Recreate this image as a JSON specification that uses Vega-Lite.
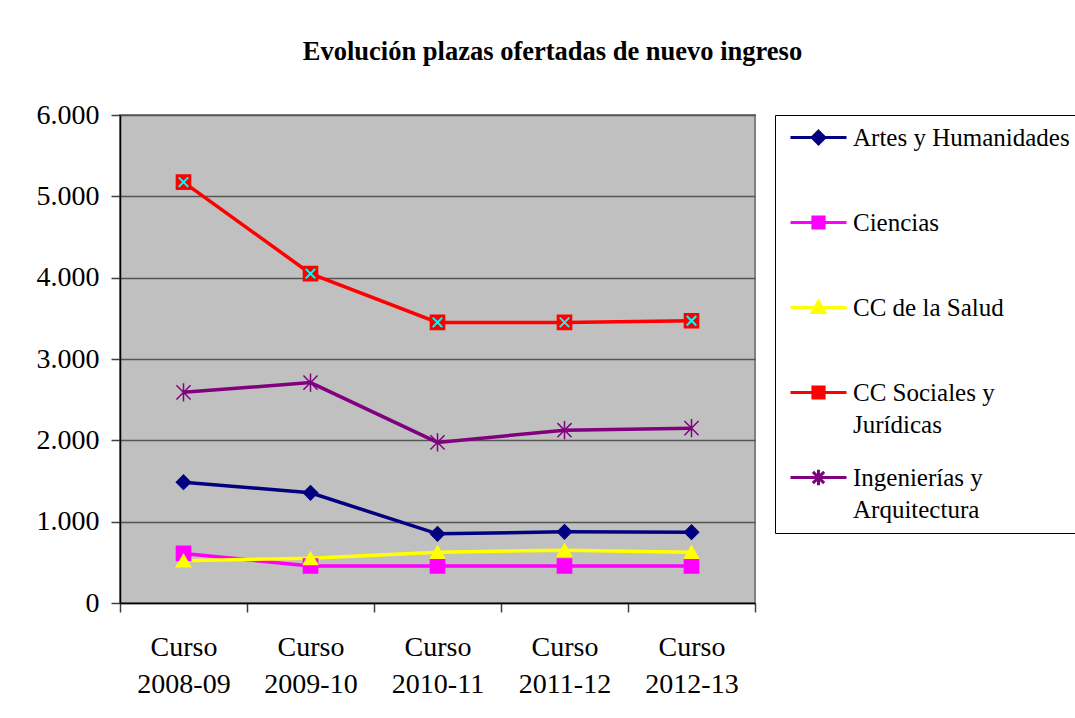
{
  "$schema": "https://vega.github.io/schema/vega-lite/v6.json",
  "width": 635,
  "height": 488,
  "autosize": {"type": "none"},
  "padding": {"left": 120, "top": 115, "right": 320, "bottom": 115},
  "background": "white",
  "title": {
    "text": "Evolución plazas ofertadas de nuevo ingreso",
    "font": "Liberation Serif",
    "fontSize": 26.5,
    "fontWeight": "bold",
    "color": "black",
    "anchor": "middle",
    "frame": "group",
    "baseline": "alphabetic",
    "dx": 115,
    "offset": 15
  },
  "data": {
    "values": [
      {"curso": "Curso 2008-09", "serie": "Artes y Humanidades", "plazas": 1485},
      {"curso": "Curso 2009-10", "serie": "Artes y Humanidades", "plazas": 1355},
      {"curso": "Curso 2010-11", "serie": "Artes y Humanidades", "plazas": 850},
      {"curso": "Curso 2011-12", "serie": "Artes y Humanidades", "plazas": 875},
      {"curso": "Curso 2012-13", "serie": "Artes y Humanidades", "plazas": 870},
      {"curso": "Curso 2008-09", "serie": "Ciencias", "plazas": 610},
      {"curso": "Curso 2009-10", "serie": "Ciencias", "plazas": 455},
      {"curso": "Curso 2010-11", "serie": "Ciencias", "plazas": 455},
      {"curso": "Curso 2011-12", "serie": "Ciencias", "plazas": 455},
      {"curso": "Curso 2012-13", "serie": "Ciencias", "plazas": 455},
      {"curso": "Curso 2008-09", "serie": "CC de la Salud", "plazas": 520},
      {"curso": "Curso 2009-10", "serie": "CC de la Salud", "plazas": 550},
      {"curso": "Curso 2010-11", "serie": "CC de la Salud", "plazas": 625},
      {"curso": "Curso 2011-12", "serie": "CC de la Salud", "plazas": 650},
      {"curso": "Curso 2012-13", "serie": "CC de la Salud", "plazas": 625},
      {"curso": "Curso 2008-09", "serie": "CC Sociales y Jurídicas", "plazas": 5175},
      {"curso": "Curso 2009-10", "serie": "CC Sociales y Jurídicas", "plazas": 4050},
      {"curso": "Curso 2010-11", "serie": "CC Sociales y Jurídicas", "plazas": 3450},
      {"curso": "Curso 2011-12", "serie": "CC Sociales y Jurídicas", "plazas": 3450},
      {"curso": "Curso 2012-13", "serie": "CC Sociales y Jurídicas", "plazas": 3470},
      {"curso": "Curso 2008-09", "serie": "Ingenierías y Arquitectura", "plazas": 2590},
      {"curso": "Curso 2009-10", "serie": "Ingenierías y Arquitectura", "plazas": 2710},
      {"curso": "Curso 2010-11", "serie": "Ingenierías y Arquitectura", "plazas": 1975},
      {"curso": "Curso 2011-12", "serie": "Ingenierías y Arquitectura", "plazas": 2125},
      {"curso": "Curso 2012-13", "serie": "Ingenierías y Arquitectura", "plazas": 2150}
    ]
  },
  "config": {
    "font": "Liberation Serif",
    "view": {"fill": "#c0c0c0", "stroke": "#808080", "strokeWidth": 2},
    "axis": {
      "labelFont": "Liberation Serif",
      "labelFontSize": 28,
      "labelColor": "black",
      "domainColor": "black",
      "domainWidth": 1.5,
      "tickColor": "#404040",
      "tickWidth": 1.5,
      "tickSize": 9,
      "title": null
    },
    "legend": {
      "orient": "none",
      "legendX": 655,
      "legendY": 0,
      "padding": 10,
      "strokeColor": "black",
      "fillColor": "white",
      "symbolOffset": 21,
      "labelOffset": 22,
      "labelFont": "Liberation Serif",
      "labelFontSize": 25,
      "labelColor": "black",
      "labelLimit": 500,
      "labelBaseline": "alphabetic",
      "symbolSize": 196,
      "symbolStrokeWidth": 3,
      "symbolOpacity": 1,
      "gridAlign": "all",
      "rowPadding": 25
    }
  },
  "encoding": {
    "x": {
      "field": "curso",
      "type": "ordinal",
      "bandPosition": 0.5,
      "scale": {"type": "band", "paddingInner": 0, "paddingOuter": 0},
      "axis": {
        "labelAngle": 0,
        "tickBand": "extent",
        "labelFont": "Liberation Serif",
        "labelExpr": "split(datum.label, ' ')",
        "labelLineHeight": 37,
        "labelPadding": 21,
        "grid": false
      }
    },
    "y": {
      "field": "plazas",
      "type": "quantitative",
      "scale": {"domain": [0, 6000], "nice": false},
      "axis": {
        "values": [0, 1000, 2000, 3000, 4000, 5000, 6000],
        "labelFont": "Liberation Serif",
        "labelExpr": "replace(format(datum.value, ','), ',', '.')",
        "labelPadding": 12,
        "grid": true,
        "gridColor": "#555555",
        "gridWidth": 1.5
      }
    }
  },
  "layer": [
    {
      "mark": {"type": "line", "strokeWidth": 3.5},
      "encoding": {
        "color": {
          "field": "serie",
          "type": "nominal",
          "scale": {
            "domain": ["Artes y Humanidades", "Ciencias", "CC de la Salud", "CC Sociales y Jurídicas", "Ingenierías y Arquitectura"],
            "range": ["#000080", "#ff00ff", "#ffff00", "#ff0000", "#800080"]
          },
          "legend": null
        }
      }
    },
    {
      "mark": {"type": "point", "filled": true, "strokeWidth": 1.5, "size": 200, "opacity": 1},
      "encoding": {
        "shape": {
          "field": "serie",
          "type": "nominal",
          "scale": {
            "domain": ["Artes y Humanidades", "Ciencias", "CC de la Salud", "CC Sociales y Jurídicas", "Ingenierías y Arquitectura"],
            "range": ["diamond", "square", "triangle-up", "square", "M-1,-1L1,1M-1,1L1,-1M0,-1.3V1.3"]
          },
          "legend": null
        },
        "fill": {
          "field": "serie",
          "type": "nominal",
          "scale": {
            "domain": ["Artes y Humanidades", "Ciencias", "CC de la Salud", "CC Sociales y Jurídicas", "Ingenierías y Arquitectura"],
            "range": ["#000080", "#ff00ff", "#ffff00", "#ff0000", "#800080"]
          },
          "legend": null
        },
        "stroke": {
          "field": "serie",
          "type": "nominal",
          "scale": {
            "domain": ["Artes y Humanidades", "Ciencias", "CC de la Salud", "CC Sociales y Jurídicas", "Ingenierías y Arquitectura"],
            "range": ["#000080", "#ff00ff", "#ffff00", "#ff0000", "#800080"]
          },
          "legend": null
        }
      }
    },
    {
      "transform": [{"filter": "datum.serie == 'CC Sociales y Jurídicas'"}],
      "mark": {"type": "point", "filled": false, "shape": "M-1,-1L1,1M-1,1L1,-1", "size": 90, "stroke": "#00ffff", "strokeWidth": 2, "opacity": 1}
    },
    {
      "mark": {"type": "point", "filled": true, "opacity": 0, "strokeWidth": 3},
      "encoding": {
        "shape": {
          "field": "serie",
          "type": "nominal",
          "scale": {
            "domain": ["Artes y Humanidades", "Ciencias", "CC de la Salud", "CC Sociales y Jurídicas", "Ingenierías y Arquitectura"],
            "range": [
              "M-4,0H4M0,-0.9L0.9,0L0,0.9L-0.9,0Z",
              "M-4,0H4M-0.8,-0.8H0.8V0.8H-0.8Z",
              "M-4,0H4M0,-0.9L0.9,0.7H-0.9Z",
              "M-4,0H4M-0.8,-0.8H0.8V0.8H-0.8Z",
              "M-4,0H4M-0.8,-0.8L0.8,0.8M-0.8,0.8L0.8,-0.8M0,-1.1V1.1"
            ]
          },
          "legend": {
            "title": null,
            "labelExpr": "datum.label == 'CC Sociales y Jurídicas' ? ['CC Sociales y', 'Jurídicas'] : datum.label == 'Ingenierías y Arquitectura' ? ['Ingenierías y', 'Arquitectura'] : datum.label",
            "encode": {"labels": {"update": {"dy": {"value": 8}, "lineHeight": {"value": 32}, "font": {"value": "Liberation Serif"}}}}
          }
        },
        "fill": {
          "field": "serie",
          "type": "nominal",
          "scale": {
            "domain": ["Artes y Humanidades", "Ciencias", "CC de la Salud", "CC Sociales y Jurídicas", "Ingenierías y Arquitectura"],
            "range": ["#000080", "#ff00ff", "#ffff00", "#ff0000", "#800080"]
          },
          "legend": {
            "title": null,
            "labelExpr": "datum.label == 'CC Sociales y Jurídicas' ? ['CC Sociales y', 'Jurídicas'] : datum.label == 'Ingenierías y Arquitectura' ? ['Ingenierías y', 'Arquitectura'] : datum.label",
            "encode": {"labels": {"update": {"dy": {"value": 8}, "lineHeight": {"value": 32}, "font": {"value": "Liberation Serif"}}}}
          }
        },
        "stroke": {
          "field": "serie",
          "type": "nominal",
          "scale": {
            "domain": ["Artes y Humanidades", "Ciencias", "CC de la Salud", "CC Sociales y Jurídicas", "Ingenierías y Arquitectura"],
            "range": ["#000080", "#ff00ff", "#ffff00", "#ff0000", "#800080"]
          },
          "legend": {
            "title": null,
            "labelExpr": "datum.label == 'CC Sociales y Jurídicas' ? ['CC Sociales y', 'Jurídicas'] : datum.label == 'Ingenierías y Arquitectura' ? ['Ingenierías y', 'Arquitectura'] : datum.label",
            "encode": {"labels": {"update": {"dy": {"value": 8}, "lineHeight": {"value": 32}, "font": {"value": "Liberation Serif"}}}}
          }
        }
      }
    }
  ],
  "resolve": {
    "scale": {"shape": "independent", "fill": "independent", "stroke": "independent"},
    "legend": {"shape": "independent", "fill": "independent", "stroke": "independent"}
  }
}
